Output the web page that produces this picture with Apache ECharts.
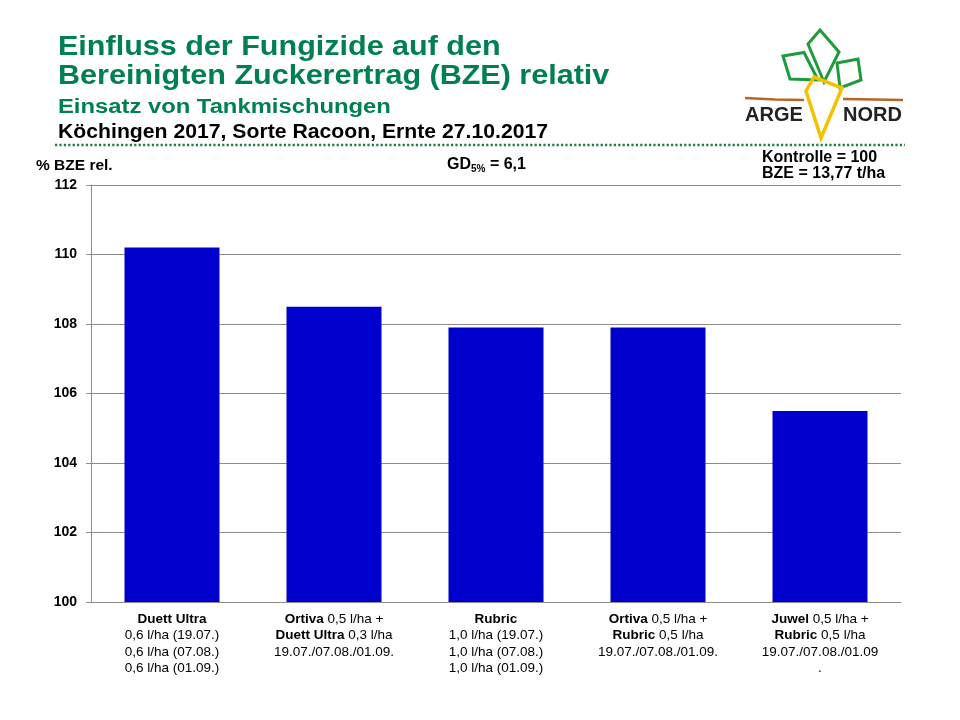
<!DOCTYPE html>
<html>
<head>
<meta charset="utf-8">
<script src="https://cdn.jsdelivr.net/npm/echarts@6/dist/echarts.min.js"></script>
<style>
html,body{margin:0;padding:0;background:#fff;}
#chart{width:960px;height:720px;}
</style>
</head>
<body>
<div id="chart"></div>
<script>
// ---- data ----
const categories = [
  "{b|Duett Ultra}\n0,6 l/ha (19.07.)\n0,6 l/ha (07.08.)\n0,6 l/ha (01.09.)",
  "{b|Ortiva} 0,5 l/ha +\n{b|Duett Ultra} 0,3 l/ha\n19.07./07.08./01.09.",
  "{b|Rubric}\n1,0 l/ha (19.07.)\n1,0 l/ha (07.08.)\n1,0 l/ha (01.09.)",
  "{b|Ortiva} 0,5 l/ha +\n{b|Rubric} 0,5 l/ha\n19.07./07.08./01.09.",
  "{b|Juwel} 0,5 l/ha +\n{b|Rubric} 0,5 l/ha\n19.07./07.08./01.09\n."
];
const values = [110.2, 108.5, 107.9, 107.9, 105.5];
const yMin = 100, yMax = 112, yStep = 2;

const titleLines = [
  "Einfluss der Fungizide auf den",
  "Bereinigten Zuckerertrag (BZE) relativ"
];
const subtitle = "Einsatz von Tankmischungen";
const siteLine = "Köchingen 2017, Sorte Racoon, Ernte 27.10.2017";
const yAxisName = "% BZE rel.";
const gdText = "GD{sub|5%} = 6,1";
const controlLines = ["Kontrolle = 100", "BZE = 13,77 t/ha"];

// ---- chart ----
const FONT = "'Liberation Sans', Arial, sans-serif";
const GREEN = "#008050";
const chart = echarts.init(document.getElementById('chart'), null, {renderer: 'canvas'});

const txt = (x, y, text, size, color, sx) => ({
  type: 'text', x: x, y: y, silent: true, scaleX: sx || 1,
  style: {text: text, fontFamily: FONT, fontSize: size, fontWeight: 'bold',
    fill: color, textVerticalAlign: 'middle', textAlign: 'left'}
});

const logo = [
  // brown soil lines
  {type:'polyline', silent:true, shape:{points:[[745,98],[775,99.5],[804,100]]}, style:{stroke:'#b5672a', lineWidth:2.5, fill:null}},
  {type:'polyline', silent:true, shape:{points:[[843,99],[875,99.5],[903,100]]}, style:{stroke:'#b5672a', lineWidth:2.5, fill:null}},
  // leaves
  {type:'polygon', silent:true, shape:{points:[[783,56],[804,52.5],[818,80],[790,79]]}, style:{stroke:'#1f9a3c', lineWidth:3, fill:null}},
  {type:'polygon', silent:true, shape:{points:[[820,30],[839,52],[824,82],[808,44]]}, style:{stroke:'#1f9a3c', lineWidth:3, fill:null}},
  {type:'polygon', silent:true, shape:{points:[[837,63],[858,59],[861,80],[840,88]]}, style:{stroke:'#1f9a3c', lineWidth:3, fill:null}},
  // carrot
  {type:'polygon', silent:true, shape:{points:[[814,77],[842,88],[821,138],[806,91]]}, style:{stroke:'#f2c200', lineWidth:3.5, fill:null}},
  txt(745, 115, 'ARGE', 20, '#222'),
  txt(843, 115, 'NORD', 20, '#222')
];

const option = {
  animation: false,
  backgroundColor: '#fff',
  grid: {left: 91, right: 59, top: 185, bottom: 118, containLabel: false},
  xAxis: {
    type: 'category',
    data: categories,
    axisLine: {show: true, lineStyle: {color: '#8c8c8c', width: 1}},
    axisTick: {show: false},
    axisLabel: {
      interval: 0, margin: 9, color: '#000', fontFamily: FONT, fontSize: 13.5, lineHeight: 16.5,
      rich: {b: {fontWeight: 'bold', fontFamily: FONT, fontSize: 13.5, lineHeight: 16.5, color: '#000'}}
    }
  },
  yAxis: {
    type: 'value', min: yMin, max: yMax, interval: yStep,
    axisLine: {show: true, lineStyle: {color: '#8c8c8c', width: 1}},
    axisTick: {show: true, length: 5, lineStyle: {color: '#8c8c8c'}},
    splitLine: {show: true, lineStyle: {color: '#8c8c8c', width: 1}},
    axisLabel: {color: '#000', fontFamily: FONT, fontSize: 14, fontWeight: 'bold', margin: 14}
  },
  series: [{
    type: 'bar', data: values, barWidth: 95,
    itemStyle: {color: '#0000CC'}
  }],
  graphic: [
    txt(58, 47.5, titleLines[0], 27.5, GREEN, 1.11),
    txt(58, 76, titleLines[1], 27.5, GREEN, 1.11),
    txt(58, 107, subtitle, 20, GREEN, 1.19),
    txt(58, 132, siteLine, 20, '#000', 1.06),
    {type:'line', silent:true, shape:{x1:55, y1:145, x2:905, y2:145},
      style:{stroke:'#1a8040', lineWidth:2.5, lineDash:[2.2,2.2]}},
    txt(36, 165.5, yAxisName, 15.5, '#000'),
    {type:'text', x: 447, y: 165, silent: true,
      style:{text: gdText, fontFamily: FONT, fontSize: 16, fontWeight: 'bold', fill: '#000',
        textVerticalAlign:'middle', textAlign:'left',
        rich: {sub: {fontFamily: FONT, fontSize: 10, fontWeight: 'bold', fill:'#000', padding:[9,0,0,0]}}}},
    txt(762, 157.5, controlLines[0], 16, '#000'),
    txt(762, 173.5, controlLines[1], 16, '#000')
  ].concat(logo)
};
chart.setOption(option);
</script>
</body>
</html>
